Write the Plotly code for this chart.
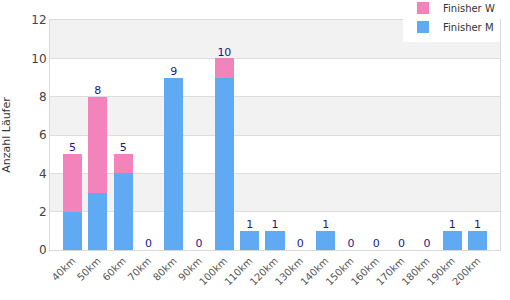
import plotly.graph_objects as go

categories = ["40km", "50km", "60km", "70km", "80km", "90km", "100km", "110km", "120km",
              "130km", "140km", "150km", "160km", "170km", "180km", "190km", "200km"]
finisher_m = [2, 3, 4, 0, 9, 0, 9, 1, 1, 0, 1, 0, 0, 0, 0, 1, 1]
finisher_w = [3, 5, 1, 0, 0, 0, 1, 0, 0, 0, 0, 0, 0, 0, 0, 0, 0]
y_ticks = [0, 2, 4, 6, 8, 10, 12]

totals = [m + w for m, w in zip(finisher_m, finisher_w)]

fig = go.Figure()
fig.add_trace(go.Bar(x=categories, y=finisher_m, name="Finisher M",
                     marker=dict(color="#60a9f3", line=dict(width=0))))
fig.add_trace(go.Bar(x=categories, y=finisher_w, name="Finisher W",
                     marker=dict(color="#f283bb", line=dict(width=0))))
fig.add_trace(go.Scatter(x=categories, y=totals, mode="text", text=[str(t) for t in totals],
                         textposition="top center", showlegend=False, hoverinfo="skip",
                         textfont=dict(color="#1a1a8c", size=11, family="DejaVu Sans")))

for lo in (2, 6, 10):
    fig.add_shape(type="rect", xref="paper", yref="y", x0=0, x1=1, y0=lo, y1=lo + 2,
                  fillcolor="#f2f2f2", line=dict(width=0), layer="below")

fig.update_layout(
    width=510, height=300,
    margin=dict(l=50, r=10, t=20, b=50, autoexpand=False),
    barmode="stack", bargap=0.245,
    plot_bgcolor="white", paper_bgcolor="white",
    font=dict(family="DejaVu Sans", size=11, color="#444444"),
    showlegend=True,
    legend=dict(traceorder="reversed", x=1.0, xanchor="right", y=1.115, yanchor="top",
                yref="paper", bgcolor="white", font=dict(size=10, color="#333333"),
                itemwidth=30, tracegroupgap=0, borderwidth=0),
    xaxis=dict(tickangle=-45, showline=True, linecolor="#d9d9d9", mirror=True,
               tickfont=dict(size=10, color="#555555"), ticks=""),
    yaxis=dict(range=[0, 12], tickvals=y_ticks, showgrid=True, gridcolor="#dddddd",
               showline=True, linecolor="#d9d9d9", mirror=True, zeroline=False,
               tickfont=dict(size=12, color="#444444"),
               title=dict(text="Anzahl Läufer", font=dict(size=11, color="#333333"), standoff=18)),
)

fig.write_html("out.html")
